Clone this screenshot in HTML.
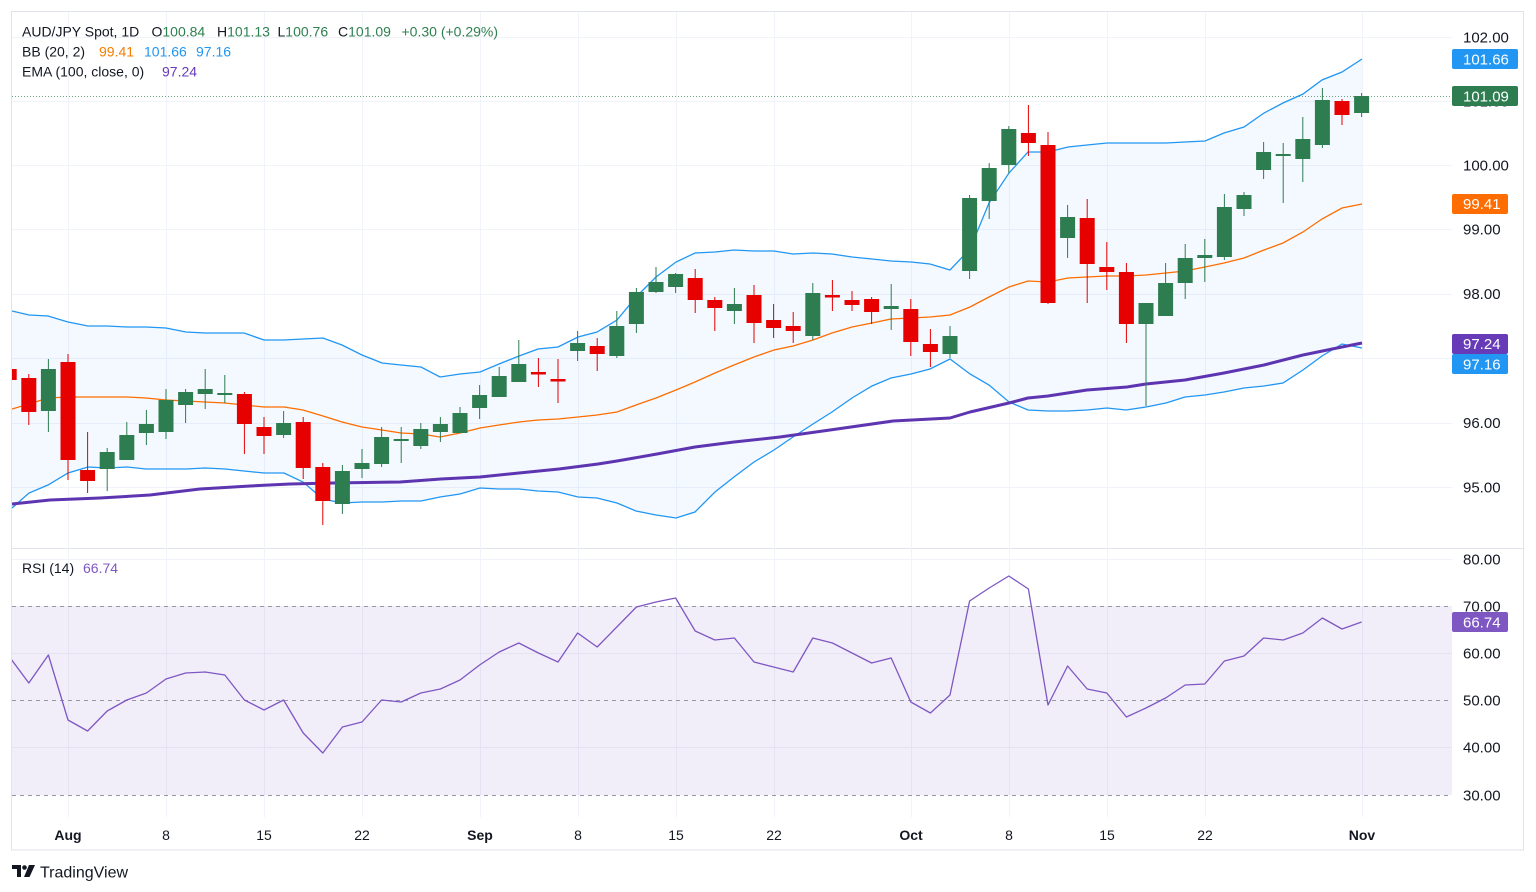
<!DOCTYPE html>
<html><head><meta charset="utf-8"><style>
html,body{margin:0;padding:0;background:#fff;}
svg{display:block;font-family:"Liberation Sans",Arial,sans-serif;}
</style></head><body>
<svg width="1536" height="892" viewBox="0 0 1536 892" xmlns="http://www.w3.org/2000/svg">
<defs>
<clipPath id="pc"><rect x="12" y="12" width="1440" height="536"/></clipPath>
<clipPath id="rc"><rect x="12" y="549" width="1440" height="266"/></clipPath>
</defs>
<rect width="1536" height="892" fill="#fff"/>
<!-- frame -->
<rect x="11.5" y="11.5" width="1512" height="838.5" fill="none" stroke="#e0e3eb" stroke-width="1"/>
<line x1="12" y1="548.5" x2="1523" y2="548.5" stroke="#e0e3eb"/>
<!-- grid -->
<g stroke="#f0f3fa" stroke-width="1">
<line x1="12" y1="37.5" x2="1452" y2="37.5"/><line x1="12" y1="101.5" x2="1452" y2="101.5"/>
<line x1="12" y1="165.5" x2="1452" y2="165.5"/><line x1="12" y1="229.5" x2="1452" y2="229.5"/>
<line x1="12" y1="294.5" x2="1452" y2="294.5"/><line x1="12" y1="358.5" x2="1452" y2="358.5"/>
<line x1="12" y1="423.5" x2="1452" y2="423.5"/><line x1="12" y1="487.5" x2="1452" y2="487.5"/>
<line x1="12" y1="559.5" x2="1452" y2="559.5"/><line x1="12" y1="653.5" x2="1452" y2="653.5"/><line x1="12" y1="747.5" x2="1452" y2="747.5"/>
<line x1="68.5" y1="12" x2="68.5" y2="817"/><line x1="166.5" y1="12" x2="166.5" y2="817"/>
<line x1="264.5" y1="12" x2="264.5" y2="817"/><line x1="362.5" y1="12" x2="362.5" y2="817"/>
<line x1="480.5" y1="12" x2="480.5" y2="817"/><line x1="578.5" y1="12" x2="578.5" y2="817"/>
<line x1="676.5" y1="12" x2="676.5" y2="817"/><line x1="774.5" y1="12" x2="774.5" y2="817"/>
<line x1="911.5" y1="12" x2="911.5" y2="817"/><line x1="1009.5" y1="12" x2="1009.5" y2="817"/>
<line x1="1107.5" y1="12" x2="1107.5" y2="817"/><line x1="1205.5" y1="12" x2="1205.5" y2="817"/>
<line x1="1362.5" y1="12" x2="1362.5" y2="817"/>
</g>
<g clip-path="url(#pc)">
<!-- BB fill -->
<polygon fill="#2196f3" fill-opacity="0.055" points="12,311 29,315 48,316 68,322 88,326 107,326 127,327 146,327 166,328 186,332 205,333 225,333 244,333 264,340 284,340 303,339 323,338 342,345 362,355 382,363 401,365 421,367 440,377 460,374 480,372 499,364 519,356 538,349 558,347 578,337 597,332 617,320 636,297 656,277 676,262 695,253 715,252 734,250 754,251 774,251 793,254 813,253 832,254 852,257 872,259 891,261 911,262 930,264 950,270 970,249 989,203 1009,173 1028,152 1048,152 1068,147 1087,145 1107,143 1126,143 1146,143 1166,143 1185,142 1205,141 1224,133 1244,127 1264,113 1283,103 1303,94 1322,80 1342,72 1362,59 1362,348 1342,344 1322,356 1303,370 1283,383 1264,386 1244,388 1224,392 1205,395 1185,397 1166,403 1146,407 1126,410 1107,408 1087,410 1068,411 1048,411 1028,410 1009,402 989,385 970,374 950,359 930,369 911,374 891,378 872,386 852,398 832,412 813,424 793,437 774,450 754,462 734,477 715,492 695,512 676,518 656,515 636,511 617,503 597,498 578,497 558,492 538,491 519,489 499,489 480,488 460,494 440,497 421,501 401,501 382,502 362,502 342,503 323,499 303,482 284,473 264,473 244,471 225,469 205,468 186,469 166,469 146,469 127,467 107,468 88,467 68,473 48,485 29,493 12,508"/>
<!-- current price line -->
<line x1="12" y1="96.5" x2="1452" y2="96.5" stroke="#2e7d50" stroke-opacity="0.7" stroke-dasharray="1 2"/>
<!-- BB lines -->
<polyline fill="none" stroke="#2196f3" stroke-width="1.3" points="12,311 29,315 48,316 68,322 88,326 107,326 127,327 146,327 166,328 186,332 205,333 225,333 244,333 264,340 284,340 303,339 323,338 342,345 362,355 382,363 401,365 421,367 440,377 460,374 480,372 499,364 519,356 538,349 558,347 578,337 597,332 617,320 636,297 656,277 676,262 695,253 715,252 734,250 754,251 774,251 793,254 813,253 832,254 852,257 872,259 891,261 911,262 930,264 950,270 970,249 989,203 1009,173 1028,152 1048,152 1068,147 1087,145 1107,143 1126,143 1146,143 1166,143 1185,142 1205,141 1224,133 1244,127 1264,113 1283,103 1303,94 1322,80 1342,72 1362,59"/>
<polyline fill="none" stroke="#2196f3" stroke-width="1.3" points="12,508 29,493 48,485 68,473 88,467 107,468 127,467 146,469 166,469 186,469 205,468 225,469 244,471 264,473 284,473 303,482 323,499 342,503 362,502 382,502 401,501 421,501 440,497 460,494 480,488 499,489 519,489 538,491 558,492 578,497 597,498 617,503 636,511 656,515 676,518 695,512 715,492 734,477 754,462 774,450 793,437 813,424 832,412 852,398 872,386 891,378 911,374 930,369 950,359 970,374 989,385 1009,402 1028,410 1048,411 1068,411 1087,410 1107,408 1126,410 1146,407 1166,403 1185,397 1205,395 1224,392 1244,388 1264,386 1283,383 1303,370 1322,356 1342,344 1362,348"/>
<polyline fill="none" stroke="#ff6d00" stroke-width="1.3" points="12,409 29,404 48,398 68,397 88,397 107,397 127,397 146,398 166,400 186,401 205,402 225,403 244,405 264,407 284,407 303,410 323,416 342,422 362,427 382,430 401,433 421,434 440,437 460,433 480,428 499,425 519,422 538,420 558,419 578,417 597,415 617,412 636,405 656,398 676,390 695,382 715,373 734,365 754,357 774,350 793,346 813,340 832,333 852,327 872,323 891,319 911,318 930,317 950,315 970,307 989,297 1009,287 1028,281 1048,282 1068,278 1087,277 1107,276 1126,276 1146,275 1166,273 1185,271 1205,267 1224,263 1244,258 1264,250 1283,243 1303,232 1322,219 1342,208 1362,204"/>
<!-- EMA -->
<polyline fill="none" stroke="#5e35b1" stroke-width="3" stroke-linejoin="round" points="12,504 50,500 100,498 150,495 200,489 250,486 290,484 333,483 400,482 441,479 480,477 519,473 559,469 598,464 617,461 657,454 695,447 734,442 780,437 830,430 893,421 950,418 970,412 1009,403 1028,398 1048,396 1087,390 1127,387 1146,384 1185,380 1224,373 1264,365 1303,355 1342,347 1362,343"/>
<!-- red candles -->
<g fill="#e60000" stroke="#e60000">
<line x1="9.2" y1="366" x2="9.2" y2="385"/><rect x="1.7" y="369" width="15" height="11" stroke="none"/>
<line x1="28.8" y1="374" x2="28.8" y2="425"/><rect x="21.3" y="378" width="15" height="34" stroke="none"/>
<line x1="68" y1="354" x2="68" y2="480"/><rect x="60.5" y="362" width="15" height="98" stroke="none"/>
<line x1="87.6" y1="432" x2="87.6" y2="493"/><rect x="80.1" y="470" width="15" height="11" stroke="none"/>
<line x1="244.4" y1="392" x2="244.4" y2="454"/><rect x="236.9" y="394" width="15" height="30" stroke="none"/>
<line x1="264" y1="417" x2="264" y2="454"/><rect x="256.5" y="427" width="15" height="9" stroke="none"/>
<line x1="303.2" y1="417" x2="303.2" y2="479"/><rect x="295.7" y="422" width="15" height="46" stroke="none"/>
<line x1="322.8" y1="463" x2="322.8" y2="525"/><rect x="315.3" y="467" width="15" height="34" stroke="none"/>
<line x1="538.4" y1="358" x2="538.4" y2="387"/><rect x="530.9" y="372" width="15" height="2.5" stroke="none"/>
<line x1="558" y1="359" x2="558" y2="403"/><rect x="550.5" y="379" width="15" height="2.5" stroke="none"/>
<line x1="597.2" y1="338" x2="597.2" y2="371"/><rect x="589.7" y="346" width="15" height="8" stroke="none"/>
<line x1="695.2" y1="269" x2="695.2" y2="313"/><rect x="687.7" y="278" width="15" height="22" stroke="none"/>
<line x1="714.8" y1="297" x2="714.8" y2="331"/><rect x="707.3" y="300" width="15" height="8" stroke="none"/>
<line x1="754" y1="285" x2="754" y2="343"/><rect x="746.5" y="295" width="15" height="28" stroke="none"/>
<line x1="773.6" y1="304" x2="773.6" y2="338"/><rect x="766.1" y="320" width="15" height="8" stroke="none"/>
<line x1="793.2" y1="312" x2="793.2" y2="343"/><rect x="785.7" y="326" width="15" height="5" stroke="none"/>
<line x1="832.4" y1="280" x2="832.4" y2="311"/><rect x="824.9" y="295" width="15" height="2.5" stroke="none"/>
<line x1="852" y1="291" x2="852" y2="311"/><rect x="844.5" y="300" width="15" height="5" stroke="none"/>
<line x1="871.6" y1="297" x2="871.6" y2="324"/><rect x="864.1" y="299" width="15" height="13" stroke="none"/>
<line x1="910.8" y1="299" x2="910.8" y2="356"/><rect x="903.3" y="309" width="15" height="33" stroke="none"/>
<line x1="930.4" y1="329" x2="930.4" y2="367"/><rect x="922.9" y="344" width="15" height="8" stroke="none"/>
<line x1="1028.4" y1="105" x2="1028.4" y2="156"/><rect x="1020.9" y="133" width="15" height="10" stroke="none"/>
<line x1="1048" y1="132" x2="1048" y2="304"/><rect x="1040.5" y="145" width="15" height="158" stroke="none"/>
<line x1="1087.2" y1="199" x2="1087.2" y2="303"/><rect x="1079.7" y="218" width="15" height="46" stroke="none"/>
<line x1="1106.8" y1="242" x2="1106.8" y2="290"/><rect x="1099.3" y="267" width="15" height="5" stroke="none"/>
<line x1="1126.4" y1="263" x2="1126.4" y2="343"/><rect x="1118.9" y="272" width="15" height="52" stroke="none"/>
<line x1="1342" y1="99" x2="1342" y2="125"/><rect x="1334.5" y="101" width="15" height="14" stroke="none"/>
</g>
<!-- green candles -->
<g fill="#2e7d50" stroke="#2e7d50">
<line x1="48.4" y1="359" x2="48.4" y2="432"/><rect x="40.9" y="369" width="15" height="42" stroke="none"/>
<line x1="107.2" y1="448" x2="107.2" y2="491"/><rect x="99.7" y="452" width="15" height="17" stroke="none"/>
<line x1="126.8" y1="422" x2="126.8" y2="460"/><rect x="119.3" y="435" width="15" height="25" stroke="none"/>
<line x1="146.4" y1="410" x2="146.4" y2="445"/><rect x="138.9" y="424" width="15" height="9" stroke="none"/>
<line x1="166" y1="389" x2="166" y2="439"/><rect x="158.5" y="400" width="15" height="32" stroke="none"/>
<line x1="185.6" y1="389" x2="185.6" y2="423"/><rect x="178.1" y="392" width="15" height="13" stroke="none"/>
<line x1="205.2" y1="369" x2="205.2" y2="409"/><rect x="197.7" y="389" width="15" height="5" stroke="none"/>
<line x1="224.8" y1="375" x2="224.8" y2="403"/><rect x="217.3" y="393" width="15" height="2" stroke="none"/>
<line x1="283.6" y1="411" x2="283.6" y2="438"/><rect x="276.1" y="423" width="15" height="12" stroke="none"/>
<line x1="342.4" y1="465" x2="342.4" y2="514"/><rect x="334.9" y="471" width="15" height="33" stroke="none"/>
<line x1="362" y1="449" x2="362" y2="478"/><rect x="354.5" y="463" width="15" height="6" stroke="none"/>
<line x1="381.6" y1="427" x2="381.6" y2="467"/><rect x="374.1" y="437" width="15" height="27" stroke="none"/>
<line x1="401.2" y1="427" x2="401.2" y2="463"/><rect x="393.7" y="439" width="15" height="2" stroke="none"/>
<line x1="420.8" y1="423" x2="420.8" y2="449"/><rect x="413.3" y="429" width="15" height="17" stroke="none"/>
<line x1="440.4" y1="417" x2="440.4" y2="442"/><rect x="432.9" y="424" width="15" height="8" stroke="none"/>
<line x1="460" y1="407" x2="460" y2="433"/><rect x="452.5" y="413" width="15" height="20" stroke="none"/>
<line x1="479.6" y1="385" x2="479.6" y2="419"/><rect x="472.1" y="395" width="15" height="13" stroke="none"/>
<line x1="499.2" y1="367" x2="499.2" y2="397"/><rect x="491.7" y="376" width="15" height="21" stroke="none"/>
<line x1="518.8" y1="340" x2="518.8" y2="382"/><rect x="511.3" y="364" width="15" height="18" stroke="none"/>
<line x1="577.6" y1="331" x2="577.6" y2="361"/><rect x="570.1" y="343" width="15" height="8" stroke="none"/>
<line x1="616.8" y1="311" x2="616.8" y2="358"/><rect x="609.3" y="326" width="15" height="30" stroke="none"/>
<line x1="636.4" y1="288" x2="636.4" y2="333"/><rect x="628.9" y="292" width="15" height="32" stroke="none"/>
<line x1="656" y1="267" x2="656" y2="293"/><rect x="648.5" y="282" width="15" height="10" stroke="none"/>
<line x1="675.6" y1="273" x2="675.6" y2="293"/><rect x="668.1" y="274" width="15" height="13" stroke="none"/>
<line x1="734.4" y1="288" x2="734.4" y2="324"/><rect x="726.9" y="304" width="15" height="7" stroke="none"/>
<line x1="812.8" y1="283" x2="812.8" y2="340"/><rect x="805.3" y="293" width="15" height="43" stroke="none"/>
<line x1="891.2" y1="284" x2="891.2" y2="330"/><rect x="883.7" y="306" width="15" height="3" stroke="none"/>
<line x1="950" y1="326" x2="950" y2="358"/><rect x="942.5" y="336" width="15" height="18" stroke="none"/>
<line x1="969.6" y1="195" x2="969.6" y2="279"/><rect x="962.1" y="198" width="15" height="73" stroke="none"/>
<line x1="989.2" y1="163" x2="989.2" y2="219"/><rect x="981.7" y="168" width="15" height="33" stroke="none"/>
<line x1="1008.8" y1="126" x2="1008.8" y2="173"/><rect x="1001.3" y="129" width="15" height="36" stroke="none"/>
<line x1="1067.6" y1="205" x2="1067.6" y2="258"/><rect x="1060.1" y="217" width="15" height="21" stroke="none"/>
<line x1="1146" y1="303" x2="1146" y2="406"/><rect x="1138.5" y="303" width="15" height="21" stroke="none"/>
<line x1="1165.6" y1="263" x2="1165.6" y2="316"/><rect x="1158.1" y="283" width="15" height="33" stroke="none"/>
<line x1="1185.2" y1="244" x2="1185.2" y2="299"/><rect x="1177.7" y="258" width="15" height="25" stroke="none"/>
<line x1="1204.8" y1="239" x2="1204.8" y2="282"/><rect x="1197.3" y="255" width="15" height="3" stroke="none"/>
<line x1="1224.4" y1="194" x2="1224.4" y2="260"/><rect x="1216.9" y="207" width="15" height="50" stroke="none"/>
<line x1="1244" y1="192" x2="1244" y2="216"/><rect x="1236.5" y="195" width="15" height="14" stroke="none"/>
<line x1="1263.6" y1="142" x2="1263.6" y2="179"/><rect x="1256.1" y="152" width="15" height="18" stroke="none"/>
<line x1="1283.2" y1="143" x2="1283.2" y2="203"/><rect x="1275.7" y="154" width="15" height="2" stroke="none"/>
<line x1="1302.8" y1="117" x2="1302.8" y2="182"/><rect x="1295.3" y="139" width="15" height="20" stroke="none"/>
<line x1="1322.4" y1="88" x2="1322.4" y2="148"/><rect x="1314.9" y="100" width="15" height="45" stroke="none"/>
<line x1="1361.6" y1="93" x2="1361.6" y2="117"/><rect x="1354.1" y="96" width="15" height="17" stroke="none"/>
</g>
</g>
<!-- RSI pane -->
<g clip-path="url(#rc)">
<rect x="12" y="606" width="1440" height="189" fill="#7e57c2" fill-opacity="0.1"/>
<g stroke="#9598a1" stroke-width="1" stroke-dasharray="4 4">
<line x1="12" y1="606.5" x2="1452" y2="606.5"/>
<line x1="12" y1="700.5" x2="1452" y2="700.5"/>
<line x1="12" y1="795.5" x2="1452" y2="795.5"/>
</g>
<polyline fill="none" stroke="#7e57c2" stroke-width="1.3" stroke-linejoin="round" points="11,659 28.8,683 48.4,655 68,720 87.6,731 107.2,711 126.8,700 146.4,693 166,679 185.6,673 205.2,672 224.8,675 244.4,700 264,710 283.6,700 303.2,733 322.8,753 342.4,727 362,722 381.6,700 401.2,702 420.8,693 440.4,689 460,680 479.6,665 499.2,652 518.8,643 538.4,653 558,662 577.6,633 597.2,647 616.8,627 636.4,607 656,602 675.6,598 695.2,631 714.8,640 734.4,638 754,662 773.6,667 793.2,672 812.8,638 832.4,643 852,653 871.6,663 891.2,658 910.8,702 930.4,713 950,695 969.6,601 989.2,588 1008.8,576 1028.4,589 1048,705 1067.6,666 1087.2,689 1106.8,693 1126.4,717 1146,708 1165.6,698 1185.2,685 1204.8,684 1224.4,661 1244,656 1263.6,638 1283.2,640 1302.8,633 1322.4,618 1342,629 1361.6,622"/>
</g>
<!-- legends -->
<g font-size="14" fill="#131722">
<text x="22" y="36.5">AUD/JPY Spot, 1D</text>
<text x="151.5" y="36.5">O<tspan fill="#2e8050">100.84</tspan></text>
<text x="217" y="36.5">H<tspan fill="#2e8050">101.13</tspan></text>
<text x="277.5" y="36.5">L<tspan fill="#2e8050">100.76</tspan></text>
<text x="338" y="36.5">C<tspan fill="#2e8050">101.09</tspan></text>
<text x="401.5" y="36.5" fill="#2e8050">+0.30 (+0.29%)</text>
<text x="22" y="56.5">BB (20, 2)</text>
<text x="99" y="56.5" fill="#f57c00">99.41</text>
<text x="144" y="56.5" fill="#2196f3">101.66</text>
<text x="196" y="56.5" fill="#2196f3">97.16</text>
<text x="22" y="76.5">EMA (100, close, 0)</text>
<text x="162" y="76.5" fill="#673ab7">97.24</text>
<text x="22" y="573">RSI (14)</text>
<text x="83" y="573" fill="#7e57c2">66.74</text>
</g>
<!-- price axis -->
<g font-size="15" fill="#131722">
<text x="1463" y="42.4">102.00</text>
<text x="1463" y="106.6">101.00</text>
<text x="1463" y="170.4">100.00</text>
<text x="1463" y="234.6">99.00</text>
<text x="1463" y="299.2">98.00</text>
<text x="1463" y="363.4">97.00</text>
<text x="1463" y="428">96.00</text>
<text x="1463" y="492.4">95.00</text>
<text x="1463" y="564.4">80.00</text>
<text x="1463" y="611.4">70.00</text>
<text x="1463" y="658.4">60.00</text>
<text x="1463" y="705.4">50.00</text>
<text x="1463" y="752.4">40.00</text>
<text x="1463" y="800.4">30.00</text>
</g>
<g font-size="15" fill="#fff">
<rect x="1452" y="49" width="66" height="20" rx="2" fill="#2196f3"/><text x="1463" y="64.4">101.66</text>
<rect x="1452" y="86" width="66" height="20" rx="2" fill="#2e7d50"/><text x="1463" y="101.4">101.09</text>
<rect x="1452" y="194" width="56" height="20" rx="2" fill="#ff6d00"/><text x="1463" y="209.2">99.41</text>
<rect x="1452" y="334" width="56" height="20" rx="2" fill="#673ab7"/><text x="1463" y="349">97.24</text>
<rect x="1452" y="354" width="56" height="20" rx="2" fill="#2196f3"/><text x="1463" y="369.4">97.16</text>
<rect x="1452" y="612" width="56" height="20" rx="2" fill="#7e57c2"/><text x="1463" y="627.4">66.74</text>
</g>
<!-- time axis -->
<g font-size="14" fill="#131722" text-anchor="middle">
<text x="68" y="840" font-weight="bold">Aug</text>
<text x="166" y="840">8</text>
<text x="264" y="840">15</text>
<text x="362" y="840">22</text>
<text x="480" y="840" font-weight="bold">Sep</text>
<text x="578" y="840">8</text>
<text x="676" y="840">15</text>
<text x="774" y="840">22</text>
<text x="911" y="840" font-weight="bold">Oct</text>
<text x="1009" y="840">8</text>
<text x="1107" y="840">15</text>
<text x="1205" y="840">22</text>
<text x="1362" y="840" font-weight="bold">Nov</text>
</g>
<!-- TradingView logo -->
<g fill="#131722">
<path d="M12 865h9v12h-4v-8h-5z"/>
<circle cx="24.5" cy="867.5" r="2.3"/>
<path d="M29 865h6l-5.5 12h-5.5z"/>
</g>
<text x="40" y="877.5" font-size="16" fill="#131722">TradingView</text>
</svg>
</body></html>
